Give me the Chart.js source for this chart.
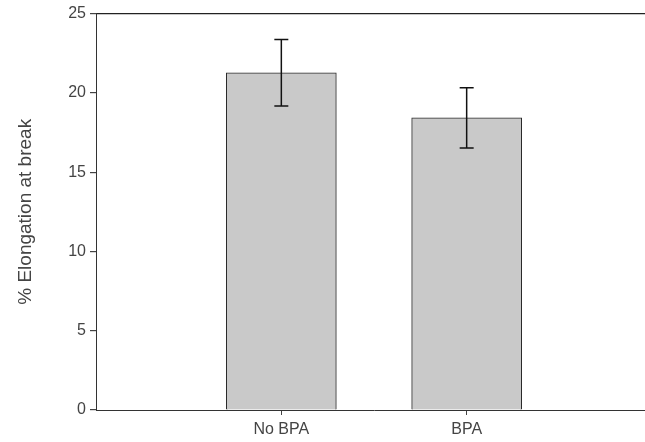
<!DOCTYPE html>
<html lang="en">
<head>
    <meta charset="UTF-8">
    <title>% Elongation at break</title>
    <script src="https://cdn.jsdelivr.net/npm/chart.js"></script>
    <style>
        body {
            margin: 0;
            padding: 0;
            background: #fff;
            overflow: hidden;
        }
        #chart {
            display: block;
        }
    </style>
</head>
<body>
    <!-- plot runs slightly past the right edge, as in the cropped original -->
    <canvas id="chart" width="652" height="442"></canvas>

    <script>
        // empty slots at both ends pad the axis like the original plot
        const categories = ['', 'No BPA', 'BPA', ''];
        const means = [null, 21.27, 18.42, null];
        const errors = [null, 2.1, 1.9, null];
        const yTicks = [0, 5, 10, 15, 20, 25];

        // error bars drawn on top of the bars, using the chart's own scales
        const errorBars = {
            id: 'errorBars',
            afterDatasetsDraw(chart) {
                const ctx = chart.ctx;
                const xs = chart.scales.x;
                const ys = chart.scales.y;
                ctx.save();
                ctx.strokeStyle = '#111';
                ctx.lineWidth = 1.5;
                means.forEach((m, i) => {
                    if (m === null) return;
                    const x = xs.getPixelForValue(i);
                    const top = ys.getPixelForValue(m + errors[i]);
                    const bot = ys.getPixelForValue(m - errors[i]);
                    ctx.beginPath();
                    ctx.moveTo(x, top);
                    ctx.lineTo(x, bot);
                    ctx.moveTo(x - 7, top);
                    ctx.lineTo(x + 7, top);
                    ctx.moveTo(x - 7, bot);
                    ctx.lineTo(x + 7, bot);
                    ctx.stroke();
                });
                ctx.restore();
            }
        };

        Chart.defaults.font.family = '"Liberation Sans", Arial, sans-serif';
        Chart.defaults.color = '#444';

        const ctx = document.getElementById('chart').getContext('2d');
        new Chart(ctx, {
            type: 'bar',
            data: {
                labels: categories,
                datasets: [{
                    data: means,
                    backgroundColor: '#c9c9c9',
                    borderColor: '#2a2a2a',
                    borderWidth: 1,
                    borderSkipped: 'bottom',
                    barThickness: 110
                }]
            },
            options: {
                responsive: false,
                animation: false,
                layout: {
                    padding: { top: 12, right: 0, left: 0, bottom: 0 }
                },
                plugins: {
                    legend: { display: false },
                    tooltip: { enabled: false }
                },
                scales: {
                    x: {
                        offset: false,
                        afterFit: (scale) => {
                            scale.height = 32;
                            scale.paddingLeft = 0;
                            scale.paddingRight = 0;
                        },
                        ticks: {
                            font: { size: 16 },
                            padding: 5,
                            autoSkip: false,
                            maxRotation: 0
                        },
                        grid: {
                            offset: false,
                            drawOnChartArea: false,
                            tickLength: 5,
                            tickColor: (c) => c.tick && c.tick.label ? '#444' : 'rgba(0,0,0,0)'
                        },
                        border: { color: '#333', width: 1 }
                    },
                    y: {
                        min: 0,
                        max: 25,
                        afterBuildTicks: (scale) => {
                            scale.ticks = yTicks.map(v => ({ value: v }));
                        },
                        afterFit: (scale) => { scale.width = 96; },
                        ticks: {
                            font: { size: 16 },
                            padding: 4
                        },
                        grid: {
                            tickLength: 6,
                            tickColor: '#444',
                            color: (c) => c.tick && c.tick.value === 25 ? '#222' : 'rgba(0,0,0,0)',
                            lineWidth: 1.2
                        },
                        border: { color: '#333', width: 1 },
                        title: {
                            display: true,
                            text: '% Elongation at break',
                            font: { size: 19 },
                            padding: { top: 14, bottom: 0 }
                        }
                    }
                }
            },
            plugins: [errorBars]
        });
    </script>
</body>
</html>
